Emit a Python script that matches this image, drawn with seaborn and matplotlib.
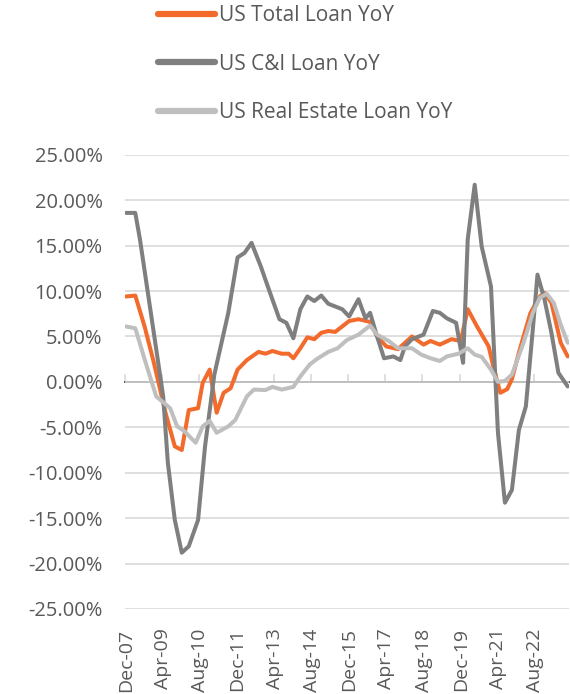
import pandas as pd
import matplotlib.pyplot as plt
import seaborn as sns

sns.set_theme(style="white")
plt.rcParams["font.family"] = ["Open Sans", "DejaVu Sans"]

# months counted from Dec-2007, values in %
total_months = [0, 4, 8, 12, 17, 21, 24, 27, 31, 33, 36, 39, 42, 45, 48, 52, 57, 60, 63, 67,
                70, 72, 75, 78, 81, 84, 87, 90, 93, 96, 100, 105, 108, 112, 117, 123, 128,
                131, 135, 140, 144, 147, 151, 156, 158, 161, 164, 166, 169, 171, 174, 178,
                180, 183, 187, 190]
total_yoy = [9.4, 9.5, 6.1, 2.1, -3.4, -7.1, -7.5, -3.1, -2.9, -0.1, 1.35, -3.4, -1.2, -0.7,
             1.35, 2.4, 3.3, 3.1, 3.4, 3.1, 3.1, 2.6, 3.7, 4.9, 4.7, 5.4, 5.6, 5.5, 6.1, 6.7,
             6.9, 6.6, 5.0, 3.9, 3.6, 5.0, 4.1, 4.5, 4.1, 4.7, 4.5, 8.0, 6.1, 3.9, 1.7, -1.2,
             -0.8, 0.3, 3.2, 5.0, 7.6, 9.4, 9.8, 8.7, 4.3, 2.8]

ci_months = [0, 4, 6, 13, 16, 18, 21, 24, 27, 31, 34, 38, 44, 48, 51, 54, 58, 61, 66, 69,
             72, 75, 78, 81, 84, 87, 90, 93, 96, 100, 103, 105, 108, 111, 115, 118, 120, 123,
             128, 132, 135, 138, 142, 145, 147, 150, 153, 157, 160, 163, 166, 169, 172, 175,
             177, 180, 183, 186, 190]
ci_yoy = [18.6, 18.6, 15.7, 3.6, -1.6, -8.9, -15.2, -18.8, -18.1, -15.2, -7.1, 0.8, 7.6,
          13.7, 14.2, 15.3, 12.7, 10.5, 6.9, 6.5, 4.8, 8.0, 9.4, 8.9, 9.5, 8.6, 8.3, 8.0, 7.2,
          9.1, 7.0, 7.6, 5.0, 2.6, 2.8, 2.4, 3.9, 4.7, 5.2, 7.8, 7.6, 7.0, 6.5, 2.1, 15.7,
          21.7, 14.9, 10.5, -5.6, -13.3, -11.9, -5.3, -2.7, 5.8, 11.8, 9.1, 5.4, 1.0, -0.5]

re_months = [0, 4, 8, 13, 19, 22, 25, 30, 33, 36, 39, 44, 47, 52, 55, 60, 63, 67, 72, 75,
             79, 82, 87, 91, 95, 100, 105, 108, 113, 117, 123, 127, 131, 135, 138, 143, 147,
             150, 153, 157, 160, 163, 166, 171, 175, 178, 181, 184, 187, 190]
re_yoy = [6.1, 5.9, 2.5, -1.6, -2.9, -4.9, -5.4, -6.7, -4.9, -4.3, -5.6, -4.9, -4.2, -1.6,
          -0.85, -0.9, -0.55, -0.85, -0.55, 0.6, 1.9, 2.5, 3.3, 3.7, 4.6, 5.2, 6.2, 5.2, 4.5,
          3.7, 3.7, 3.0, 2.6, 2.3, 2.8, 3.1, 3.7, 3.0, 2.75, 1.35, 0.0, 0.1, 0.8, 4.3, 7.6,
          9.25, 9.7, 8.7, 6.3, 4.3]

series_names = ["US Total Loan YoY", "US C&I Loan YoY", "US Real Estate Loan YoY"]
tick_labels = ["Dec-07", "Apr-09", "Aug-10", "Dec-11", "Apr-13", "Aug-14",
               "Dec-15", "Apr-17", "Aug-18", "Dec-19", "Apr-21", "Aug-22"]
n_months = 191

df = pd.concat([
    pd.DataFrame({"month": total_months, "yoy": total_yoy, "series": series_names[0]}),
    pd.DataFrame({"month": ci_months, "yoy": ci_yoy, "series": series_names[1]}),
    pd.DataFrame({"month": re_months, "yoy": re_yoy, "series": series_names[2]}),
])

text_color = "#595959"
palette = {series_names[0]: "#F26B2D", series_names[1]: "#7F7F7F", series_names[2]: "#BFBFBF"}

fig = plt.figure(figsize=(5.7, 6.94), dpi=100)
ax = fig.add_axes([0.219, 0.1225, 0.779, 0.6545])

sns.lineplot(data=df, x="month", y="yoy", hue="series", palette=palette,
             estimator=None, sort=False, linewidth=2.9, ax=ax, legend=True)
for ln in ax.get_lines():
    ln.set_solid_joinstyle("round")
    ln.set_solid_capstyle("round")

ax.set_xlim(-0.5, n_months - 0.5)
ax.set_ylim(-25, 25)
ax.set_yticks(range(-25, 26, 5))
ax.set_yticklabels([f"{v:.2f}%" for v in range(-25, 26, 5)])
ax.yaxis.grid(True, color="#D9D9D9", linewidth=1.2)
ax.set_axisbelow(True)
for s in ax.spines.values():
    s.set_visible(False)

ax.set_xticks([16 * i for i in range(len(tick_labels))])
ax.set_xticklabels(tick_labels, rotation=90)
ax.tick_params(axis="x", length=0, pad=14, labelsize=14, labelcolor=text_color)
ax.tick_params(axis="y", length=0, pad=16, labelsize=14.5, labelcolor=text_color)
ax.set_xlabel("")
ax.set_ylabel("")

# tick marks on the zero line, between categories
sec = ax.secondary_xaxis(0.5)
sec.set_xticks([16 * i - 0.5 for i in range(len(tick_labels))])
sec.set_xticklabels([])
sec.tick_params(axis="x", length=6, width=1.2, color="#D9D9D9", direction="out")
sec.spines["bottom"].set_visible(False)

handles, labels = ax.get_legend_handles_labels()
ax.get_legend().remove()
leg = fig.legend(handles, labels, loc="upper left", bbox_to_anchor=(158 / 570, 1 - 5 / 694),
                 frameon=False, fontsize=15, handlelength=2.75, handletextpad=0.2,
                 labelspacing=1.32, borderpad=0, borderaxespad=0)
for t in leg.get_texts():
    t.set_color(text_color)
for h in leg.get_lines():
    h.set_linewidth(4.5)
    h.set_solid_capstyle("round")

fig.savefig("out.png", dpi=100)
